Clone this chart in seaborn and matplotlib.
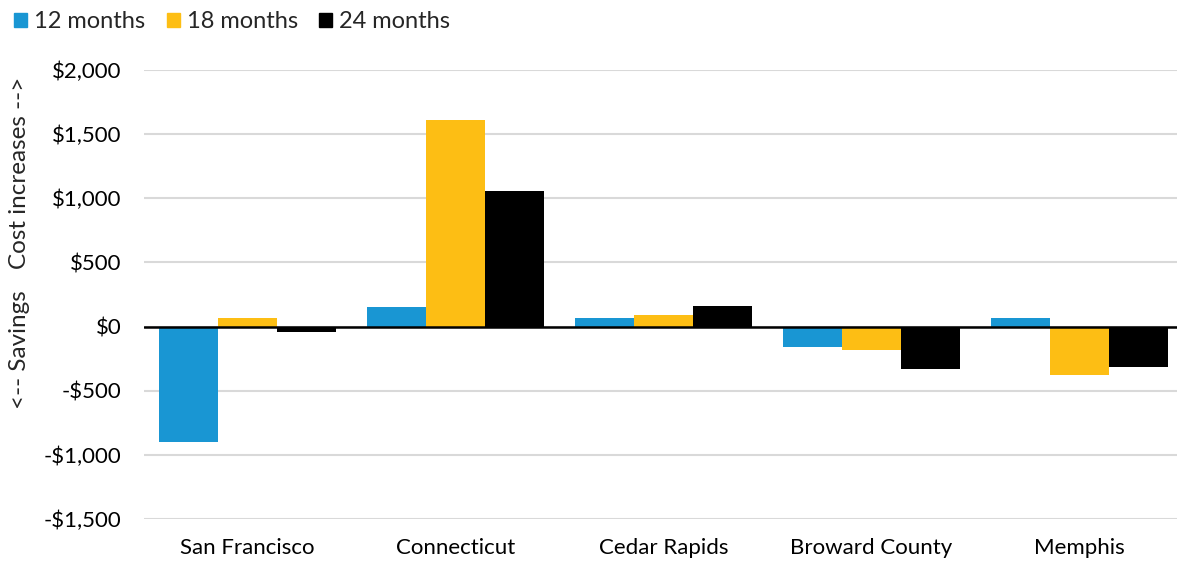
import matplotlib
matplotlib.use("Agg")
import matplotlib.pyplot as plt
from matplotlib.ticker import FuncFormatter
import seaborn as sns
import pandas as pd

# Cost change per location for each contract length
locations = ["San Francisco", "Connecticut", "Cedar Rapids", "Broward County", "Memphis"]
periods = ["12 months", "18 months", "24 months"]
values_12 = [-900, 150, 65, -160, 70]
values_18 = [65, 1610, 90, -180, -375]
values_24 = [-45, 1060, 160, -330, -315]
colors = ["#1996d3", "#fdbe14", "#000000"]

df = pd.DataFrame({
    "location": locations * 3,
    "period": [periods[0]] * 5 + [periods[1]] * 5 + [periods[2]] * 5,
    "value": values_12 + values_18 + values_24,
})

sns.set_theme(style="white")
plt.rcParams["font.family"] = ["Lato", "DejaVu Sans"]

fig = plt.figure(figsize=(11.77, 5.63), dpi=100)
ax = fig.add_axes([143.5 / 1177, 1 - 519 / 563, 1040 / 1177, 449 / 563])

sns.barplot(data=df, x="location", y="value", hue="period", order=locations,
            hue_order=periods, palette=colors, width=0.85, saturation=1,
            linewidth=0, ax=ax, legend=False, zorder=2)

ax.set_ylim(-1500, 2000)
ax.set_yticks(range(-1500, 2001, 500))
ax.yaxis.set_major_formatter(FuncFormatter(
    lambda v, _: f"-${abs(int(v)):,}" if v < 0 else f"${int(v):,}"))
ax.grid(axis="y", color="#d9d9d9", linewidth=1.5, zorder=0)
ax.axhline(0, color="black", linewidth=1.8, zorder=3)
for s in ax.spines.values():
    s.set_visible(False)
ax.tick_params(axis="y", length=0, labelsize=16, colors="black", pad=16)
ax.tick_params(axis="x", length=0, labelsize=16, colors="black", pad=14)
ax.set_xlabel("")
ax.set_ylabel("")

# Axis direction captions
fig.text(20 / 1177, 1 - 173 / 563, "Cost increases -->", rotation=90,
         ha="center", va="center", fontsize=17.5)
fig.text(20 / 1177, 1 - 350 / 563, "<-- Savings", rotation=90,
         ha="center", va="center", fontsize=17.5)

# Legend
handles = [plt.Rectangle((0, 0), 1, 1, color=c) for c in colors]
fig.legend(handles, periods, loc="upper left", bbox_to_anchor=(0.0, 1.005),
           ncol=3, frameon=False, fontsize=17, handlelength=0.55,
           handleheight=0.55, handletextpad=0.3, columnspacing=0.9,
           borderaxespad=0.2)

fig.savefig("out.png", dpi=100)
